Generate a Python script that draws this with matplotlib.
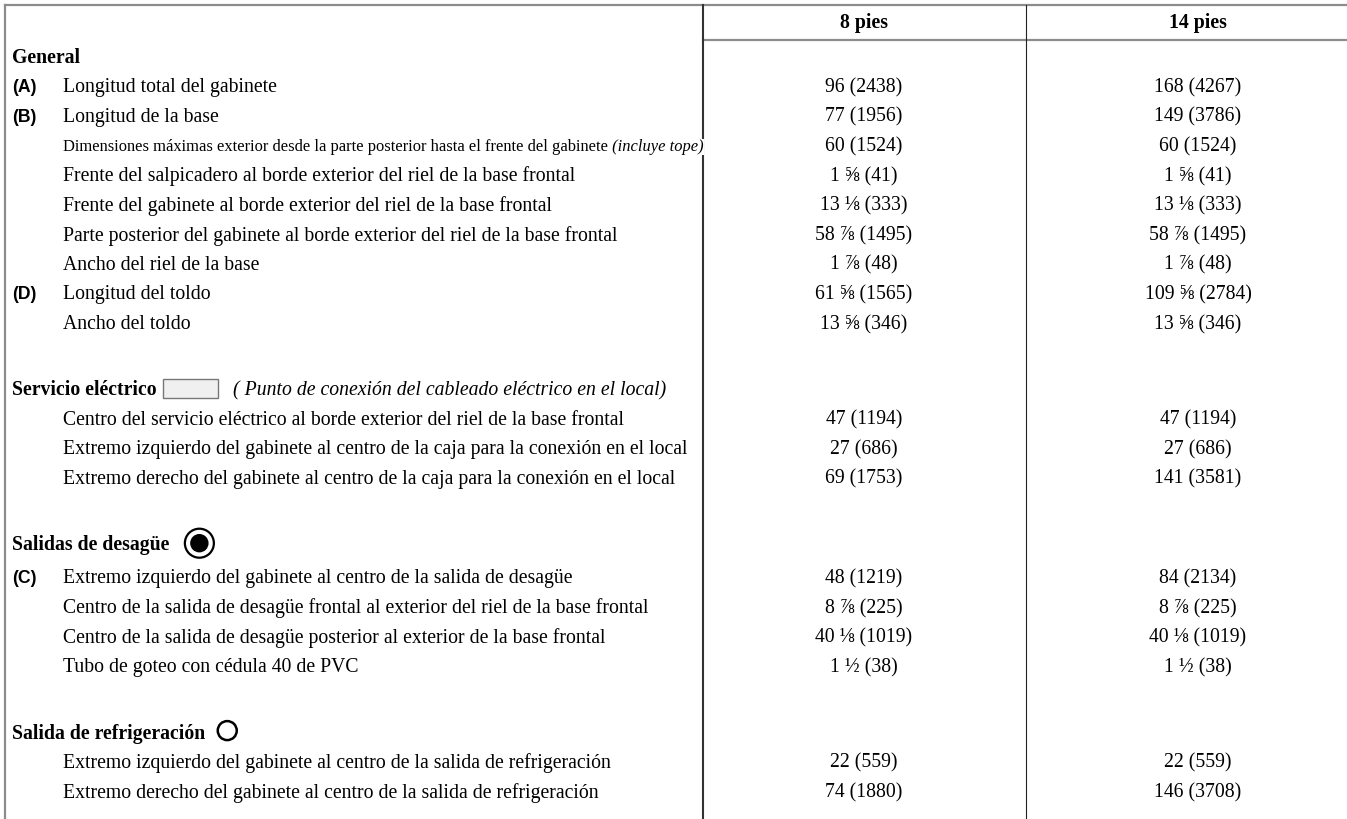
import matplotlib.pyplot as plt
from matplotlib.patches import Rectangle, Circle

plt.rcParams['font.family'] = ['Liberation Serif', 'DejaVu Serif']

col_heads = ['8 pies', '14 pies']

# General
gen_tags = ['(A)', '(B)', '', '', '', '', '', '(D)', '']
gen_labels = [
    'Longitud total del gabinete',
    'Longitud de la base',
    'Dimensiones máximas exterior desde la parte posterior hasta el frente del gabinete',
    'Frente del salpicadero al borde exterior del riel de la base frontal',
    'Frente del gabinete al borde exterior del riel de la base frontal',
    'Parte posterior del gabinete al borde exterior del riel de la base frontal',
    'Ancho del riel de la base',
    'Longitud del toldo',
    'Ancho del toldo',
]
gen_8 = ['96 (2438)', '77 (1956)', '60 (1524)', '1 ⅝ (41)', '13 ⅛ (333)',
         '58 ⅞ (1495)', '1 ⅞ (48)', '61 ⅝ (1565)', '13 ⅝ (346)']
gen_14 = ['168 (4267)', '149 (3786)', '60 (1524)', '1 ⅝ (41)', '13 ⅛ (333)',
          '58 ⅞ (1495)', '1 ⅞ (48)', '109 ⅝ (2784)', '13 ⅝ (346)']

# Servicio electrico
ele_tags = ['', '', '']
ele_labels = [
    'Centro del servicio eléctrico al borde exterior del riel de la base frontal',
    'Extremo izquierdo del gabinete al centro de la caja para la conexión en el local',
    'Extremo derecho del gabinete al centro de la caja para la conexión en el local',
]
ele_8 = ['47 (1194)', '27 (686)', '69 (1753)']
ele_14 = ['47 (1194)', '27 (686)', '141 (3581)']

# Salidas de desague
des_tags = ['(C)', '', '', '']
des_labels = [
    'Extremo izquierdo del gabinete al centro de la salida de desagüe',
    'Centro de la salida de desagüe frontal al exterior del riel de la base frontal',
    'Centro de la salida de desagüe posterior al exterior de la base frontal',
    'Tubo de goteo con cédula 40 de PVC',
]
des_8 = ['48 (1219)', '8 ⅞ (225)', '40 ⅛ (1019)', '1 ½ (38)']
des_14 = ['84 (2134)', '8 ⅞ (225)', '40 ⅛ (1019)', '1 ½ (38)']

# Salida de refrigeracion
ref_tags = ['', '']
ref_labels = [
    'Extremo izquierdo del gabinete al centro de la salida de refrigeración',
    'Extremo derecho del gabinete al centro de la salida de refrigeración',
]
ref_8 = ['22 (559)', '74 (1880)']
ref_14 = ['22 (559)', '146 (3708)']

sections = [
    ('General', None, gen_tags, gen_labels, gen_8, gen_14),
    ('Servicio eléctrico', 'box', ele_tags, ele_labels, ele_8, ele_14),
    ('Salidas de desagüe', 'drain', des_tags, des_labels, des_8, des_14),
    ('Salida de refrigeración', 'ring', ref_tags, ref_labels, ref_8, ref_14),
]

W, H = 1347, 819
fig = plt.figure(figsize=(W / 100, H / 100), dpi=100)
ax = fig.add_axes([0, 0, 1, 1])
ax.set_xlim(0, W)
ax.set_ylim(H, 0)
ax.axis('off')

fs = 14.2
step = 29.6
gap = 66
x_tag, x_lab = 12, 63
x_c8, x_c14 = 864, 1198
x_div, x_mid = 703, 1026

# lines
grey = '#8c8c8c'
ax.plot([5, W], [5, 5], color=grey, lw=1.6, zorder=1)
ax.plot([5, 5], [5, H], color=grey, lw=1.6, zorder=1)
ax.plot([x_div, W], [40, 40], color=grey, lw=1.6, zorder=1)
ax.plot([x_div, x_div], [5, H], color='#333333', lw=1.5, zorder=1)
ax.plot([x_mid, x_mid], [5, H], color='#222222', lw=0.8, zorder=1)

ax.text(x_c8, 23, col_heads[0], ha='center', va='center', fontsize=fs, fontweight='bold')
ax.text(x_c14, 23, col_heads[1], ha='center', va='center', fontsize=fs, fontweight='bold')

fig.canvas.draw()
renderer = fig.canvas.get_renderer()
inv = ax.transData.inverted()


def text_end(t):
    bb = t.get_window_extent(renderer)
    return inv.transform((bb.x1, bb.y0))[0]


y = 58
for si, (title, icon, tags, labels, v8, v14) in enumerate(sections):
    if si > 0:
        y += gap
    t = ax.text(x_tag, y, title, ha='left', va='center', fontsize=fs, fontweight='bold')
    xe = text_end(t)
    if icon == 'box':
        ax.add_patch(Rectangle((xe + 6, y - 11), 55, 19, facecolor='#f0f0f0',
                               edgecolor='#777777', lw=1.0, zorder=2))
        ax.text(xe + 76, y, '( Punto de conexión del cableado eléctrico en el local)',
                ha='left', va='center', fontsize=fs, style='italic')
    elif icon == 'drain':
        cx = xe + 30
        ax.add_patch(Circle((cx, y - 2), 14.5, facecolor='white', edgecolor='black', lw=1.6, zorder=2))
        ax.add_patch(Circle((cx, y - 2), 8.5, facecolor='black', edgecolor='black', zorder=3))
        y += 4
    elif icon == 'ring':
        cx = xe + 22
        ax.add_patch(Circle((cx, y - 3), 9.5, facecolor='none', edgecolor='black', lw=1.8, zorder=2))
    for tag, lab, a, b in zip(tags, labels, v8, v14):
        y += step
        if tag:
            ax.text(x_tag, y, tag, ha='left', va='center', fontsize=fs - 1.5,
                    fontweight='bold', family=['Liberation Sans', 'DejaVu Sans'])
        if lab.startswith('Dimensiones'):
            t1 = ax.text(x_lab, y, lab, ha='left', va='center', fontsize=11.9, zorder=4,
                         bbox=dict(facecolor='white', edgecolor='none', pad=0))
            ax.annotate(' (incluye tope)', xy=(1, 0.5), xycoords=t1, ha='left', va='center',
                        fontsize=11.9, style='italic', zorder=4,
                        bbox=dict(facecolor='white', edgecolor='none', pad=0))
        else:
            ax.text(x_lab, y, lab, ha='left', va='center', fontsize=fs)
        ax.text(x_c8, y, a, ha='center', va='center', fontsize=fs)
        ax.text(x_c14, y, b, ha='center', va='center', fontsize=fs)

fig.savefig('out.png', dpi=100)
